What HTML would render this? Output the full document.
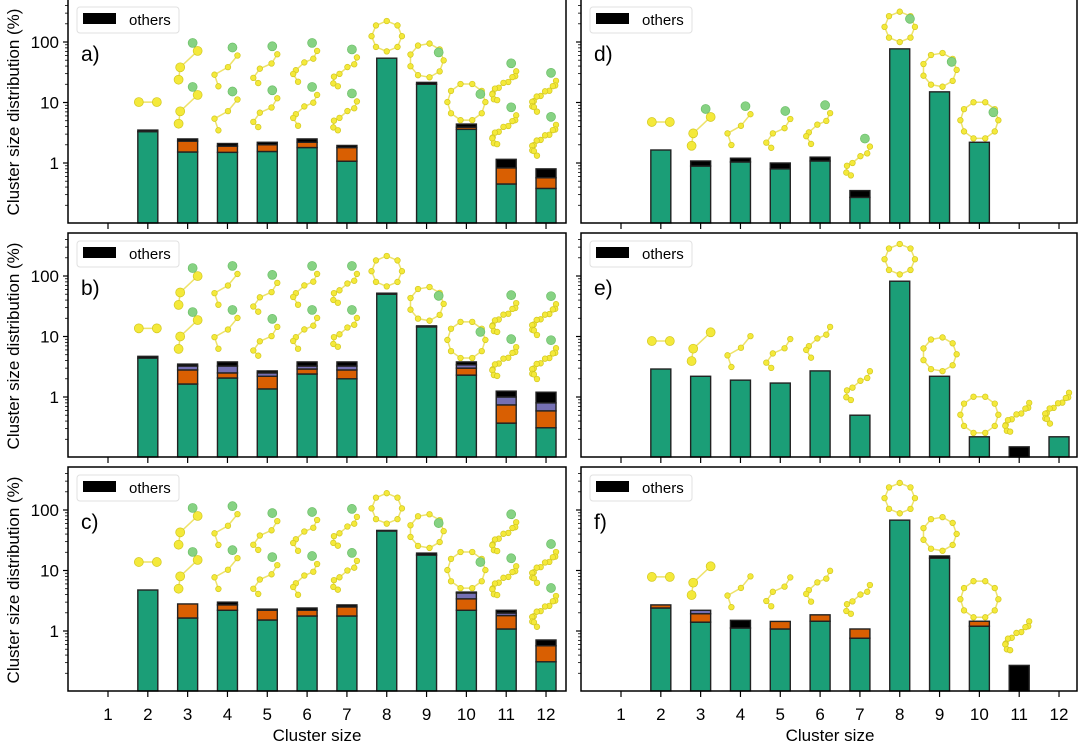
<!DOCTYPE html>
<html><head><meta charset="utf-8"><style>
html,body{margin:0;padding:0;background:#fff;}
svg{display:block;font-family:"Liberation Sans",sans-serif;}
</style></head><body>
<svg id="fig" width="1080" height="745" viewBox="0 0 1080 745" xmlns="http://www.w3.org/2000/svg"></svg>
<script>
// Categories (cluster sizes)
const categories = [1,2,3,4,5,6,7,8,9,10,11,12];
// Segment values (%) per panel: green, orange, purple, black (stacked)
const aGreen  = [0,3.3,1.52,1.5,1.55,1.8,1.07,54,20,3.6,0.45,0.38];
const aOrange = [0,0,0.78,0.4,0.45,0.4,0.73,0,0,0.3,0.38,0.19];
const aPurple = [0,0,0,0,0,0,0,0,0,0,0,0];
const aBlack  = [0,0.2,0.2,0.2,0.2,0.3,0.15,0,1.5,0.5,0.32,0.23];
const bGreen  = [0,4.4,1.64,2.06,1.36,2.4,2.0,50,14.4,2.3,0.37,0.31];
const bOrange = [0,0,1.16,0.44,0.84,0.5,0.8,0,0,0.7,0.37,0.28];
const bPurple = [0,0,0.45,0.75,0.3,0.35,0.45,0,0,0.4,0.26,0.21];
const bBlack  = [0,0.3,0.25,0.55,0.2,0.55,0.55,2,0.6,0.4,0.25,0.4];
const cGreen  = [0,4.76,1.64,2.2,1.52,1.77,1.77,45,18,2.2,1.08,0.31];
const cOrange = [0,0,1.16,0.5,0.68,0.43,0.73,0,0,1.2,0.72,0.26];
const cPurple = [0,0,0,0,0,0,0,0,0,0.85,0.18,0];
const cBlack  = [0,0,0,0.3,0.1,0.2,0.2,1,1.4,0.15,0.22,0.14];
const dGreen  = [0,1.64,0.89,1.04,0.8,1.08,0.27,77,15,2.2,0,0];
const dOrange = [0,0,0,0,0,0,0,0,0,0,0,0];
const dPurple = [0,0,0,0,0,0,0,0,0,0,0,0];
const dBlack  = [0,0,0.19,0.16,0.2,0.17,0.08,0,0,0,0,0];
const eGreen  = [0,2.9,2.2,1.9,1.7,2.7,0.5,82,2.2,0.22,0,0.22];
const eOrange = [0,0,0,0,0,0,0,0,0,0,0,0];
const ePurple = [0,0,0,0,0,0,0,0,0,0,0,0];
const eBlack  = [0,0,0,0,0,0,0,0,0,0,0.15,0];
const fGreen  = [0,2.4,1.4,1.12,1.08,1.45,0.76,68,16,1.2,0,0];
const fOrange = [0,0.3,0.53,0,0.36,0.4,0.32,0,0,0.25,0,0];
const fPurple = [0,0,0.27,0,0,0,0,0,0,0,0,0];
const fBlack  = [0,0,0,0.38,0,0,0,0,1.4,0,0.27,0];
const yTickValues = [1,10,100];
const yTickLabels = ["1","10","100"];
const panelLetters = ["a)","b)","c)","d)","e)","f)"];

const NS="http://www.w3.org/2000/svg";
const svg=document.getElementById('fig');
function mk(tag,attrs,parent){const e=document.createElementNS(NS,tag);for(const k in attrs)e.setAttribute(k,attrs[k]);(parent||svg).appendChild(e);return e;}
const colors=["#1b9e77","#d95f02","#7570b3","#000000"];
const panels=[
 {col:0,row:0,data:[aGreen,aOrange,aPurple,aBlack]},
 {col:0,row:1,data:[bGreen,bOrange,bPurple,bBlack]},
 {col:0,row:2,data:[cGreen,cOrange,cPurple,cBlack]},
 {col:1,row:0,data:[dGreen,dOrange,dPurple,dBlack]},
 {col:1,row:1,data:[eGreen,eOrange,ePurple,eBlack]},
 {col:1,row:2,data:[fGreen,fOrange,fPurple,fBlack]},
];
function xScale(col,c){return (col===0?108:621)+(c-1)*39.82;}
function yScale(row,v){return 163+234*row-60.5*Math.log10(v);}

function molecule(g,cx,cy,n,ring,green){
  const pts=[];
  if(ring){const r=n*1.9;for(let i=0;i<n;i++){const a=i/n*2*Math.PI;pts.push([cx+r*Math.cos(a),cy+r*Math.sin(a)]);}pts.push(pts[0]);}
  else{for(let i=0;i<n;i++){const t=i/(Math.max(n-1,1));const a=t*Math.PI*1.3;pts.push([cx+12*Math.cos(a)-2,cy-16+t*32*0.9+ (i%2)*2]);}
    if(n===2){pts[0]=[cx-9,cy];pts[1]=[cx+9,cy];}}
  const pl=mk('polyline',{points:pts.map(p=>p.join(',')).join(' '),fill:'none',stroke:'#eee36a','stroke-width':1.5},g);
  
  
  const m=ring?pts.length-1:pts.length;
  for(let i=0;i<m;i++){const c=mk('circle',{cx:pts[i][0],cy:pts[i][1],r:n<=3?4.5:2.8,fill:'#f4e93a',stroke:'#d2c820','stroke-width':0.7},g);
    
    }
  if(green){const c=mk('circle',{cx:pts[0][0]-5,cy:pts[0][1]-8,r:4.5,fill:'#86d283',stroke:'#6cbf68','stroke-width':0.7},g);
    
    }
}

panels.forEach((p,pi)=>{
  const x0=p.col===0?68:581, x1=p.col===0?566:1077;
  const top=-1+234*p.row, bot=223+234*p.row;
  const g=mk('g',{});
  
  
  categories.forEach((c,i)=>{
    let base=0;
    const xc=xScale(p.col,c);
    for(let s=0;s<4;s++){
      const v=p.data[s][i]; if(!(v>0))continue;
      const lo=base>0?yScale(p.row,base):bot;
      const hi=yScale(p.row,base+v);
      const r=mk('rect',{x:xc-10,y:hi,width:20,height:Math.max(0,Math.min(lo,bot)-hi),fill:colors[s],stroke:'#222','stroke-width':1.4},g);
      
      
      base+=v;
    }
    if(base>0){
      const ytop=yScale(p.row,base);
      const ring=(c>=8 && c<=10);
      if(p.col===0 && c>=2){
        molecule(g,xc,ytop-(ring?22:28),c,ring,c>=9||(c>2&&c<8));
        if(!ring && c>=3) molecule(g,xc,ytop-72,c,false,true);
      } else if(p.col===1 && c>=2){
        molecule(g,xc,ytop-(ring?22:28),c,ring,p.row===0&&c>=3);
      }
    }
  });
  const fr=mk('rect',{x:x0,y:top,width:x1-x0,height:bot-top,fill:'none',stroke:'#000','stroke-width':1.5},g);
  
  
  categories.forEach(c=>{
    const x=xScale(p.col,c);
    mk('line',{x1:x,x2:x,y1:bot,y2:bot+6,stroke:'#000','stroke-width':1.2},g);
    if(p.row===2){const t=mk('text',{x:x,y:bot+29,'text-anchor':'middle','font-size':17},g);t.textContent=c;
      
      }
  });
  for(let d=-1;d<=2;d++){for(let m=1;m<10;m++){const v=m*Math.pow(10,d);const y=yScale(p.row,v);
    if(y<top+1||y>bot-1)continue;
    mk('line',{x1:x0-(m===1?5:3),x2:x0,y1:y,y2:y,stroke:'#000','stroke-width':m===1?1.2:0.8},g);}}
  if(p.col===0){yTickValues.forEach((v,i)=>{const t=mk('text',{x:x0-9,y:yScale(p.row,v)+6,'text-anchor':'end','font-size':17},g);t.textContent=yTickLabels[i];
    
    });
    const yl=mk('text',{x:0,y:0,transform:`translate(19,${112+234*p.row}) rotate(-90)`,'text-anchor':'middle','font-size':17},g);
    yl.textContent='Cluster size distribution (%)';
    
    }
  const lg=mk('g',{},g);
  
  
  mk('rect',{x:x0+9,y:top+8,width:102,height:26,rx:3,fill:'#fff',stroke:'#e0e0e0','stroke-width':1},lg);
  const lp=mk('rect',{x:x0+15,y:top+14,width:33,height:11,fill:'#000'},lg);
  
  
  const lt=mk('text',{x:x0+61,y:top+26,'font-size':15},lg);lt.textContent='others';
  const pl=mk('text',{x:x0+13,y:top+62,'font-size':21},g);pl.textContent=panelLetters[pi];
  
  
});
[317,830].forEach(x=>{const t=mk('text',{x:x,y:741,'text-anchor':'middle','font-size':17});t.textContent='Cluster size';
  
  });
</script>
</body></html>
